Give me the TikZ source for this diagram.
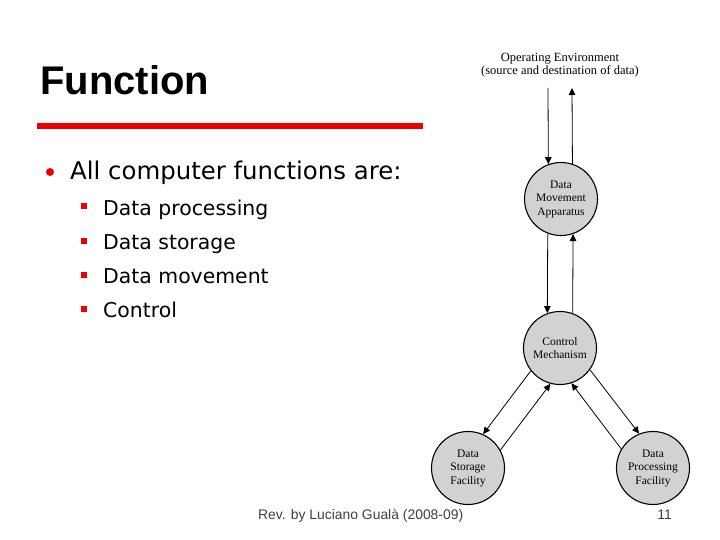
\documentclass[tikz,border=0pt]{standalone}
\usepackage{fontspec}
\setmainfont{Liberation Serif}
\newfontfamily\titlefont{Liberation Sans}
\newfontfamily\bodyfont{DejaVu Sans}
\newfontfamily\footfont{Liberation Sans}
\usetikzlibrary{arrows.meta}
\definecolor{slidered}{RGB}{238,0,0}
\begin{document}
\begin{tikzpicture}[x=1pt,y=-1pt,
    unit/.style={circle,draw,line width=1.1pt,fill=gray!35,minimum size=73pt,inner sep=0pt,
        align=center,font=\fontsize{11.5}{13.5}\selectfont},
    flow/.style={line width=0.8pt,-{Triangle[length=7pt,width=6.5pt]}},
    subitem/.style={anchor=base west,inner sep=0pt,font=\bodyfont\fontsize{20.4}{24}\selectfont},
    sqmark/.style={fill=slidered,draw=none}]
        \useasboundingbox (0,0) rectangle (720,540);
        \node[anchor=base west,inner sep=0pt,font=\titlefont\bfseries\fontsize{40}{48}\selectfont] (title) at (40,95) {Function};
        \fill[slidered] (37,123) rectangle (423,129.5);
        \fill[slidered] (50,172) circle (4);
        \node[anchor=base west,inner sep=0pt,font=\bodyfont\fontsize{24.4}{28}\selectfont] (all) at (70,180) {All computer functions are:};
        \foreach \y/\t/\n in {215/Data processing/proc,249/Data storage/stor,283/Data movement/move,317/Control/ctrl} {
            \fill[sqmark] (80.5,\y-11.5) rectangle (86.5,\y-5.5);
            \node[subitem] (\n) at (103,\y) {\t};
        }
        \node[align=center,inner sep=0pt,font=\fontsize{12.5}{13.5}\selectfont] (env) at (560,65)
            {Operating Environment\\(source and destination of data)};
        \coordinate (envL) at (548,88); \coordinate (envR) at (572,88);
        \node[unit] (dma) at (561,199) {Data\\Movement\\Apparatus};
        \node[unit] (cm) at (560,348) {Control\\Mechanism};
        \node[unit] (dsf) at (468,468) {Data\\Storage\\Facility};
        \node[unit] (dpf) at (653,468) {Data\\Processing\\Facility};
        \draw[flow] (envL) -- (dma.110.6);
        \draw[flow] (dma.72) -- (envR);
        \draw[flow] (dma.249.4) -- (cm.110.9);
        \draw[flow] (cm.70.8) -- (dma.289);
        \draw[flow] (cm.218.7) -- (dsf.66);
        \draw[flow] (dsf.29) -- (cm.255);
        \draw[flow] (cm.324) -- (dpf.112);
        \draw[flow] (dpf.149) -- (cm.288);
        \node[anchor=base west,inner sep=0pt,text=black!75,font=\footfont\fontsize{13.9}{16}\selectfont] (rev) at (258,519.5) {Rev. by Luciano Gualà (2008-09)};
        \node[anchor=base east,inner sep=0pt,text=black!75,font=\footfont\fontsize{13.9}{16}\selectfont] (page) at (672,519.5) {11};
    \end{tikzpicture}
\end{document}
